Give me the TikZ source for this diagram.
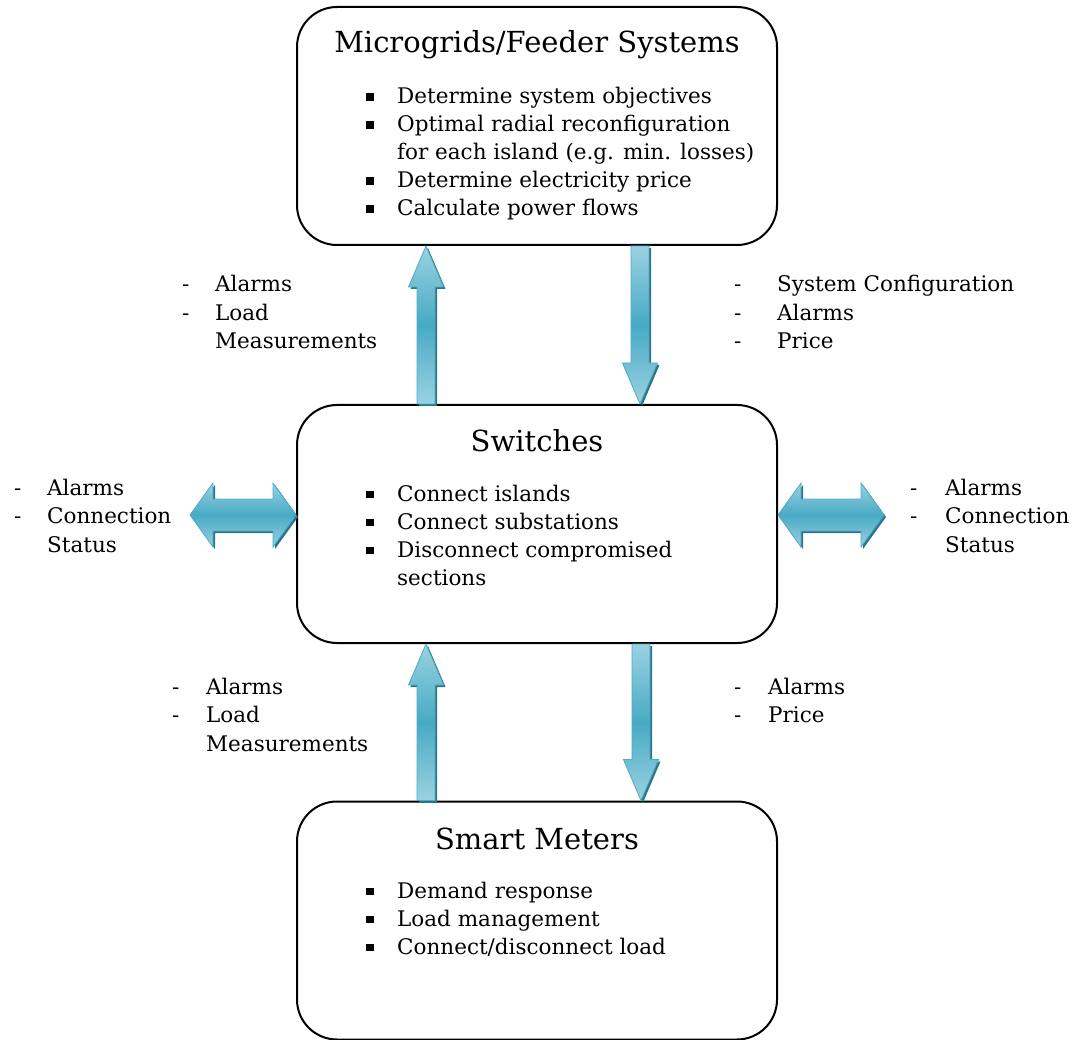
\documentclass[tikz,border=0pt]{standalone}
\usepackage{fontspec}
\setmainfont{DejaVu Serif}
\usetikzlibrary{calc}
\definecolor{arrlight}{HTML}{9AD2E1}
\definecolor{arrdark}{HTML}{48AAC4}
\definecolor{arredge}{HTML}{4BACC6}
\definecolor{arrshade}{HTML}{2D7486}
\tikzset{
  panel/.style={draw=black, line width=2pt, rounded corners=40pt,
    minimum width=480pt, minimum height=238pt, inner sep=0pt},
  heading/.style={anchor=base, inner sep=0pt, font=\fontsize{29}{34}\selectfont},
  itemlist/.style={anchor=base west, inner sep=0pt, font=\fontsize{21.5}{28}\selectfont},
  msglist/.style={anchor=base west, inner sep=0pt, font=\fontsize{21.5}{28.5}\selectfont},
  arrbody/.style={top color=arrlight, bottom color=arrlight, middle color=arrdark,
    draw=arredge, line width=0.8pt, line join=miter},
  arrback/.style={fill=arrshade, transform canvas={shift={(2pt,-2pt)}}},
}
\newcommand\sq{\rule[3pt]{7.5pt}{7.5pt}}
% single block arrow from #1 (tail) to #2 (tip)
\newcommand\flowpath[2]{%
  ($(#1)!9pt!90:(#2)$) -- ($(#1#2h)!9pt!90:(#2)$) -- ($(#1#2h)!17.5pt!90:(#2)$)
  -- (#2) -- ($(#1#2h)!17.5pt!-90:(#2)$) -- ($(#1#2h)!9pt!-90:(#2)$)
  -- ($(#1)!9pt!-90:(#2)$) -- cycle}
\newcommand\flowarrow[2]{%
  \coordinate (#1#2h) at ($(#2)!41pt!(#1)$);
  \fill[arrback] \flowpath{#1}{#2};
  \shade[arrbody] \flowpath{#1}{#2};}
% double block arrow between #1 and #2
\newcommand\dualpath[2]{%
  (#1) -- ($(#1#2p)!32pt!90:(#2)$) -- ($(#1#2p)!16pt!90:(#2)$)
  -- ($(#1#2q)!16pt!-90:(#1)$) -- ($(#1#2q)!32pt!-90:(#1)$) -- (#2)
  -- ($(#1#2q)!32pt!90:(#1)$) -- ($(#1#2q)!16pt!90:(#1)$)
  -- ($(#1#2p)!16pt!-90:(#2)$) -- ($(#1#2p)!32pt!-90:(#2)$) -- cycle}
\newcommand\dualarrow[2]{%
  \coordinate (#1#2p) at ($(#1)!23pt!(#2)$);
  \coordinate (#1#2q) at ($(#2)!23pt!(#1)$);
  \fill[arrback] \dualpath{#1}{#2};
  \shade[arrbody] \dualpath{#1}{#2};}
\begin{document}
\begin{tikzpicture}[x=1pt, y=-1pt]
\useasboundingbox (0,0) rectangle (1079,1040);

% the three panels
\node[panel] (mg) at (537,126) {};
\node[panel] (sw) at (537,524) {};
\node[panel] (sm) at (537,920.5) {};

% panel texts
\node[heading] (mgt) at (537,53) {Microgrids/Feeder Systems};
\node[itemlist] (mgl) at (366,104) {\begin{tabular}[t]{@{}p{31pt}@{}l@{}}
\sq & Determine system objectives\\
\sq & Optimal radial reconfiguration\\
    & for each island (e.g. min. losses)\\
\sq & Determine electricity price\\
\sq & Calculate power flows
\end{tabular}};

\node[heading] (swt) at (537,451) {Switches};
\node[itemlist] (swl) at (366,501) {\begin{tabular}[t]{@{}p{31pt}@{}l@{}}
\sq & Connect islands\\
\sq & Connect substations\\
\sq & Disconnect compromised\\
    & sections
\end{tabular}};

\node[heading] (smt) at (537,849) {Smart Meters};
\node[itemlist] (sml) at (366,898) {\begin{tabular}[t]{@{}p{31pt}@{}l@{}}
\sq & Demand response\\
\sq & Load management\\
\sq & Connect/disconnect load
\end{tabular}};

% arrow end points
\coordinate (ua) at ($(sw.north)+(-111,0)$);
\coordinate (ub) at ($(mg.south)+(-111,0)$);
\coordinate (da) at ($(mg.south)+(103,0)$);
\coordinate (db) at ($(sw.north)+(103,0)$);
\coordinate (va) at ($(sm.north)+(-111,0)$);
\coordinate (vb) at ($(sw.south)+(-111,0)$);
\coordinate (ea) at ($(sw.south)+(104,0)$);
\coordinate (eb) at ($(sm.north)+(104,0)$);
\coordinate (la) at (190,515);
\coordinate (lb) at ($(sw.west)+(0,-9)$);
\coordinate (ra) at ($(sw.east)+(0,-9)$);
\coordinate (rb) at (884,515);

\flowarrow{ua}{ub}
\flowarrow{da}{db}
\flowarrow{va}{vb}
\flowarrow{ea}{eb}
\dualarrow{la}{lb}
\dualarrow{ra}{rb}

% message labels
\node[msglist] (m1) at (182,292) {\begin{tabular}[t]{@{}p{33pt}@{}l@{}}
- & Alarms\\ - & Load\\ & Measurements\end{tabular}};
\node[msglist] (m2) at (734,292) {\begin{tabular}[t]{@{}p{43pt}@{}l@{}}
- & System Configuration\\ - & Alarms\\ - & Price\end{tabular}};
\node[msglist] (m3) at (14,495) {\begin{tabular}[t]{@{}p{33pt}@{}l@{}}
- & Alarms\\ - & Connection\\ & Status\end{tabular}};
\node[msglist] (m4) at (910,495) {\begin{tabular}[t]{@{}p{35pt}@{}l@{}}
- & Alarms\\ - & Connection\\ & Status\end{tabular}};
\node[msglist] (m5) at (172,694) {\begin{tabular}[t]{@{}p{34pt}@{}l@{}}
- & Alarms\\ - & Load\\ & Measurements\end{tabular}};
\node[msglist] (m6) at (734,694) {\begin{tabular}[t]{@{}p{34pt}@{}l@{}}
- & Alarms\\ - & Price\end{tabular}};
\end{tikzpicture}
\end{document}
